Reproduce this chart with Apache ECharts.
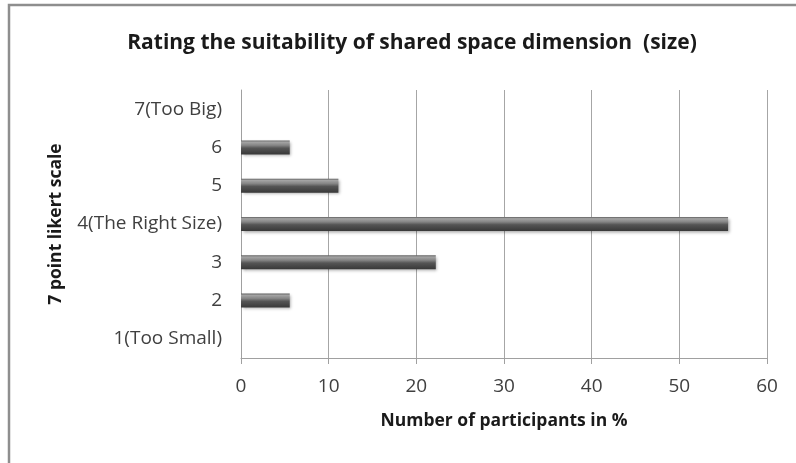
<!DOCTYPE html>
<html>
<head>
<meta charset="utf-8">
<title>Rating the suitability of shared space dimension (size)</title>
<script src="https://cdn.jsdelivr.net/npm/echarts@6/dist/echarts.min.js"></script>
<style>
  html, body { margin: 0; padding: 0; background: #ffffff; }
  #chart { width: 796px; height: 463px; }
</style>
</head>
<body>
<div id="chart"></div>
<script>
// Likert categories, bottom to top
const categories = ['1(Too Small)', '2', '3', '4(The Right Size)', '5', '6', '7(Too Big)'];
// Share of participants (%) choosing each rating
const percentages = [0, 5.56, 22.22, 55.56, 11.11, 5.56, 0];
// Value axis ticks
const xTicks = [0, 10, 20, 30, 40, 50, 60];

const titleText = 'Rating the suitability of shared space dimension  (size)';
const xAxisTitle = 'Number of participants in %';
const yAxisTitle = '7 point likert scale';

const FONT = '"Open Sans", "Noto Sans", sans-serif';
const chart = echarts.init(document.getElementById('chart'), null, { renderer: 'canvas' });

// Bevelled dark grey bar fill
const barFill = new echarts.graphic.LinearGradient(0, 0, 0, 1, [
  { offset: 0.0, color: '#606060' },
  { offset: 0.12, color: '#a4a4a4' },
  { offset: 0.35, color: '#858585' },
  { offset: 0.55, color: '#555555' },
  { offset: 1.0, color: '#383838' }
]);

chart.setOption({
  backgroundColor: '#ffffff',
  animation: false,
  graphic: [{
    type: 'rect',
    shape: { x: 9, y: 5, width: 820, height: 500 },
    style: { fill: 'none', stroke: '#8e8e8e', lineWidth: 2.5 },
    silent: true,
    z: -10
  }],
  title: {
    text: titleText,
    left: 407,
    textAlign: 'center',
    top: 28,
    textStyle: { fontFamily: FONT, fontWeight: 'bold', fontSize: 21, color: '#1a1a1a' }
  },
  grid: { left: 241, right: 29, top: 90, bottom: 105, containLabel: false },
  xAxis: {
    type: 'value',
    min: xTicks[0],
    max: xTicks[xTicks.length - 1],
    interval: xTicks[1] - xTicks[0],
    name: xAxisTitle,
    nameLocation: 'middle',
    nameGap: 54,
    nameTextStyle: { fontFamily: FONT, fontWeight: 'bold', fontSize: 17.5, color: '#1a1a1a' },
    axisLine: { show: true, lineStyle: { color: '#a0a0a0', width: 1 } },
    axisTick: { show: true, inside: false, length: 6, lineStyle: { color: '#a0a0a0' } },
    axisLabel: { margin: 19, fontFamily: FONT, fontSize: 19, color: '#404040' },
    splitLine: { show: true, lineStyle: { color: '#a6a6a6', width: 1 } }
  },
  yAxis: {
    type: 'category',
    data: categories,
    name: yAxisTitle,
    nameLocation: 'middle',
    nameRotate: 90,
    nameGap: 176,
    nameTextStyle: { fontFamily: FONT, fontWeight: 'bold', fontSize: 17.5, color: '#1a1a1a' },
    axisLine: { show: true, lineStyle: { color: '#a0a0a0', width: 1 } },
    axisTick: { show: false },
    axisLabel: { margin: 19, fontFamily: FONT, fontSize: 19, color: '#404040' },
    splitLine: { show: false }
  },
  series: [{
    type: 'bar',
    data: percentages,
    barWidth: 14,
    itemStyle: {
      color: barFill,
      shadowColor: 'rgba(0,0,0,0.35)',
      shadowBlur: 3,
      shadowOffsetX: 1.5,
      shadowOffsetY: 1.5
    },
    label: { show: false }
  }]
});
</script>
</body>
</html>
